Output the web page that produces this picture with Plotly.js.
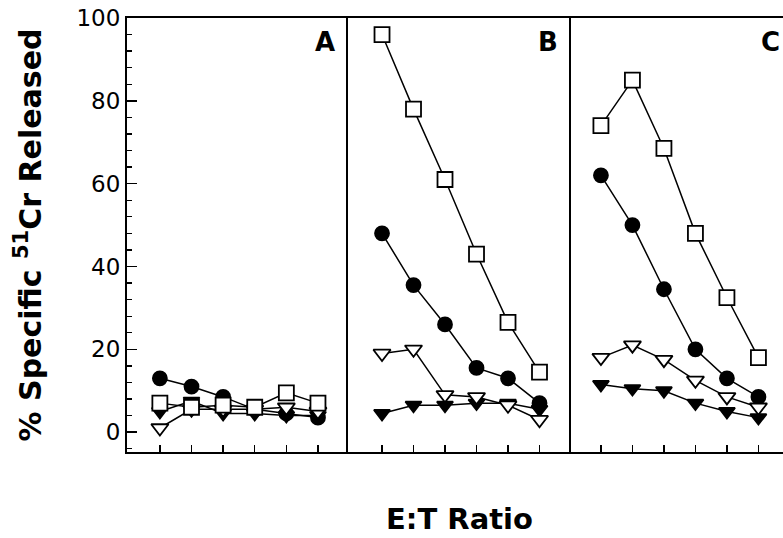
<!DOCTYPE html>
<html>
<head>
<meta charset="utf-8">
<script src="https://cdn.plot.ly/plotly-3.0.1.min.js"></script>
<style>html,body{margin:0;padding:0;background:#fff;}#chart{width:783px;height:538px;}</style>
</head>
<body>
<div id="chart"></div>
<script>
// E:T ratio positions (6 dilutions, unlabeled)
const etRatio = [1, 2, 3, 4, 5, 6];
const panels = ["A", "B", "C"];

// Panel A
const A_openSquare   = [7, 6, 6.5, 6, 9.5, 7];
const A_filledCircle = [13, 11, 8.5, 5.5, 4.5, 3.5];
const A_openTri      = [1, 5.5, 5.5, 5.5, 6, 5];
const A_filledTri    = [5, 7.5, 4.5, 4.5, 4, 4];

// Panel B
const B_openSquare   = [96, 78, 61, 43, 26.5, 14.5];
const B_filledCircle = [48, 35.5, 26, 15.5, 13, 7];
const B_openTri      = [19, 20, 9, 8.5, 6.5, 3];
const B_filledTri    = [4.5, 6.5, 6.5, 7, 7, 5.5];

// Panel C
const C_openSquare   = [74, 85, 68.5, 48, 32.5, 18];
const C_filledCircle = [62, 50, 34.5, 20, 13, 8.5];
const C_openTri      = [18, 21, 17.5, 12.5, 8.5, 6];
const C_filledTri    = [11.5, 10.5, 10, 7, 5, 3.5];

const seriesStyles = [
  {name: "open square",   symbol: "square",        fill: "#fff", size: 15},
  {name: "filled circle", symbol: "circle",        fill: "#000", size: 14},
  {name: "open triangle", symbol: "triangle-down", fill: "#fff", size: 15},
  {name: "filled triangle", symbol: "triangle-down", fill: "#000", size: 14}
];

const panelData = [
  [A_openSquare, A_filledCircle, A_openTri, A_filledTri],
  [B_openSquare, B_filledCircle, B_openTri, B_filledTri],
  [C_openSquare, C_filledCircle, C_openTri, C_filledTri]
];

const traces = [];
panelData.forEach((series, p) => {
  const ax = p === 0 ? "" : String(p + 1);
  [3, 1, 2, 0].forEach(i => {
    const st = seriesStyles[i];
    traces.push({
      type: "scatter", mode: "lines+markers",
      name: panels[p] + " " + st.name,
      x: etRatio, y: series[i],
      xaxis: "x" + ax, yaxis: "y" + ax,
      line: {color: "#000", width: 1.5},
      marker: {symbol: st.symbol, size: st.size, color: st.fill, line: {color: "#000", width: 1.8}},
      showlegend: false, cliponaxis: false
    });
  });
});

const L = 127, W = 656;
const d1 = (348 - L) / W, d2 = (571 - L) / W;
const yRange = [-4.8, 100];

const xBase = {
  showline: true, mirror: true, linecolor: "#000", linewidth: 2,
  ticks: "inside", ticklen: 7, tickwidth: 1.5, tickcolor: "#000",
  tickvals: etRatio, showticklabels: false, showgrid: false, zeroline: false
};
const yBase = {
  range: yRange, showline: true, mirror: false, linecolor: "#000", linewidth: 2,
  showgrid: false, zeroline: false
};

const layout = {
  width: 783, height: 538,
  margin: {l: L, r: 0, t: 18, b: 86},
  paper_bgcolor: "#fff", plot_bgcolor: "#fff",
  font: {family: "DejaVu Sans, Liberation Sans, Arial", color: "#000"},
  xaxis:  Object.assign({}, xBase, {domain: [0, d1], range: [-0.04, 6.95], anchor: "y"}),
  xaxis2: Object.assign({}, xBase, {domain: [d1, d2], range: [-0.08, 7.0], anchor: "y2",
            title: {text: "<b>E:T Ratio</b>", font: {size: 29, family: "DejaVu Sans"}, standoff: 56}}),
  xaxis3: Object.assign({}, xBase, {domain: [d2, 1], range: [0.05, 6.78], anchor: "y3"}),
  yaxis: Object.assign({}, yBase, {
    anchor: "x",
    tickmode: "linear", tick0: 0, dtick: 20,
    ticks: "inside", ticklen: 10, tickwidth: 1.5, tickcolor: "#000",
    tickfont: {size: 23, family: "DejaVu Sans"},
    minor: {dtick: 4, ticks: "inside", ticklen: 5, tickwidth: 1.3, tickcolor: "#000"},
    title: {text: "<b>% Specific <sup>51</sup>Cr Released</b>", font: {size: 30, family: "DejaVu Sans"}, standoff: 26}
  }),
  yaxis2: Object.assign({}, yBase, {anchor: "x2", showticklabels: false, ticks: ""}),
  yaxis3: Object.assign({}, yBase, {anchor: "x3", showticklabels: false, ticks: ""}),
  annotations: [
    {text: "<b>A</b>", xref: "paper", yref: "paper", x: (325 - L) / W, y: 1 - (42 - 18) / 434, xanchor: "center", yanchor: "middle", showarrow: false, font: {size: 26, family: "DejaVu Sans"}},
    {text: "<b>B</b>", xref: "paper", yref: "paper", x: (548 - L) / W, y: 1 - (42 - 18) / 434, xanchor: "center", yanchor: "middle", showarrow: false, font: {size: 26, family: "DejaVu Sans"}},
    {text: "<b>C</b>", xref: "paper", yref: "paper", x: (770 - L) / W, y: 1 - (42 - 18) / 434, xanchor: "center", yanchor: "middle", showarrow: false, font: {size: 26, family: "DejaVu Sans"}}
  ]
};

Plotly.newPlot("chart", traces, layout, {staticPlot: true, displayModeBar: false});
</script>
</body>
</html>
